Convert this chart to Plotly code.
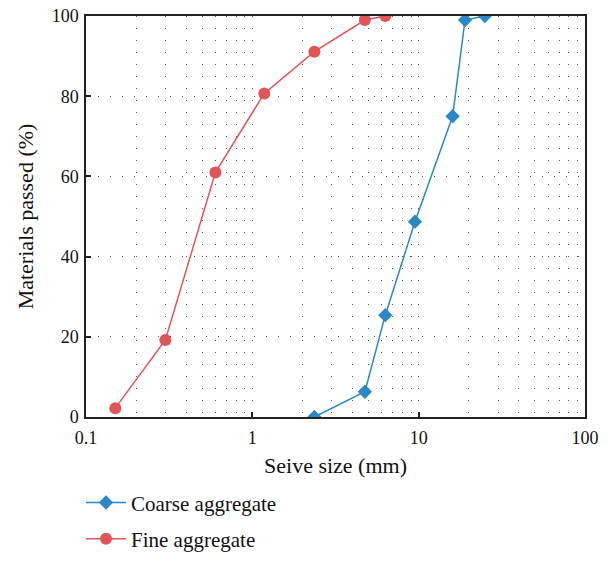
import plotly.graph_objects as go

# Sieve analysis: percent passing vs sieve opening (mm)
coarse_size = [2.36, 4.75, 6.3, 9.5, 16, 19, 25]
coarse_pass = [0, 6.3, 25.4, 48.7, 75, 99, 100]

fine_size = [0.15, 0.3, 0.6, 1.18, 2.36, 4.75, 6.3]
fine_pass = [2.2, 19.2, 61, 80.7, 91.1, 99, 100]

x_ticks = [0.1, 1, 10, 100]
x_tick_text = ["0.1", "1", "10", "100"]
y_ticks = [0, 20, 40, 60, 80, 100]

BLUE = "#2b87c6"
RED = "#e05555"
FONT = "Liberation Serif"
GRID = "#555555"
DOTS = "1px,11px"

fig = go.Figure()
fig.add_trace(go.Scatter(
    x=coarse_size, y=coarse_pass, mode="lines+markers", name="Coarse aggregate",
    line=dict(color=BLUE, width=1.5),
    marker=dict(symbol="diamond", size=11, color=BLUE),
    legendgroup="coarse",
))
fig.add_trace(go.Scatter(
    x=fine_size, y=fine_pass, mode="lines+markers", name="Fine aggregate",
    line=dict(color=RED, width=1.5),
    marker=dict(symbol="circle", size=12, color=RED),
    legendgroup="fine",
))

fig.update_layout(
    width=608, height=561,
    margin=dict(l=86, r=23, t=16, b=144, autoexpand=False),
    paper_bgcolor="white", plot_bgcolor="white",
    font=dict(family=FONT, size=18, color="#111111"),
    xaxis=dict(
        type="log", range=[-1, 2], automargin=False,
        tickvals=x_ticks, ticktext=x_tick_text,
        ticks="inside", ticklen=5, tickwidth=1.5, tickcolor="#222222",
        ticklabelstandoff=4,
        showline=True, linecolor="#222222", linewidth=1.5, mirror=True,
        showgrid=True, gridcolor=GRID, gridwidth=1, griddash=DOTS,
        minor=dict(dtick="D1", ticks="", showgrid=True, gridcolor=GRID,
                   gridwidth=1, griddash=DOTS),
        zeroline=False,
        title=dict(text="Seive size (mm)", standoff=10),
        tickfont=dict(size=18),
    ),
    yaxis=dict(
        range=[0, 100], tickvals=y_ticks, automargin=False,
        ticks="inside", ticklen=5, tickwidth=1.5, tickcolor="#222222",
        ticklabelstandoff=2,
        showline=True, linecolor="#222222", linewidth=1.5, mirror=True,
        showgrid=True, gridcolor=GRID, gridwidth=1, griddash=DOTS,
        zeroline=False,
        title=dict(text="Materials passed (%)", standoff=12),
        tickfont=dict(size=18),
    ),
    legend=dict(x=-0.01, y=-0.355, xanchor="left", yanchor="bottom",
                bgcolor="rgba(0,0,0,0)", itemwidth=40, font=dict(size=21),
                tracegroupgap=6, traceorder="grouped"),
)

fig.write_html("out.html")
